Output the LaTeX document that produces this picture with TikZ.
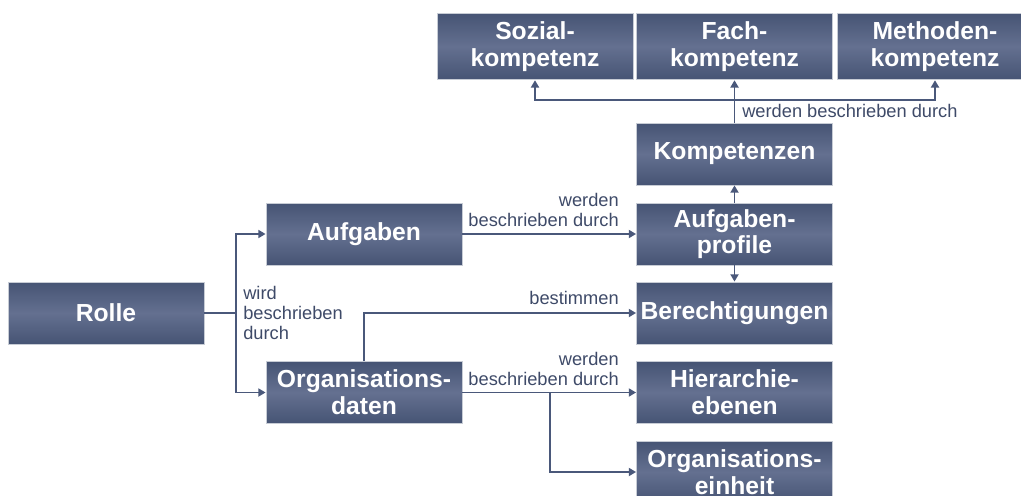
\documentclass[tikz,border=0pt]{standalone}
\usepackage{fontspec}
\setsansfont{Liberation Sans}
\usepackage{xcolor}
\usetikzlibrary{arrows.meta,positioning,calc}
\definecolor{boxdark}{RGB}{70,84,116}
\definecolor{boxlight}{RGB}{100,112,144}
\definecolor{linecol}{RGB}{74,88,122}
\definecolor{labelcol}{RGB}{62,74,104}

\begin{document}
\begin{tikzpicture}[x=0.75pt,y=-0.75pt,font=\sffamily,>={Triangle[length=5.5pt,width=6pt]},
  box/.style={rectangle,draw=white!70!boxdark,line width=0.6pt,top color=boxdark,bottom color=boxdark,
    middle color=boxlight,text=white,font=\sffamily\bfseries\fontsize{18.5}{20}\selectfont,
    align=center,minimum width=147pt,minimum height=46.5pt,inner sep=0pt},
  tallbox/.style={box,minimum height=50pt},
  conn/.style={draw=linecol,line width=1.4pt},
  lbl/.style={text=labelcol,font=\sffamily\fontsize{13.7}{15.2}\selectfont,inner sep=0pt}]
  \useasboundingbox (0,0) rectangle (1021,496);
  \clip (0,0) rectangle (1021,496);
  % left side
  \node[box] (rolle) at (106,313) {Rolle};
  \node[box] (aufgaben) at (364,234) {Aufgaben};
  \node[box] (orgdaten) at (364,392.5) {Organisations-\\daten};
  % right column
  \node[box] (kompetenzen) at (734.5,154) {Kompetenzen};
  \node[box] (aufgprofile) at (734.5,234) {Aufgaben-\\profile};
  \node[box] (berecht) at (734.5,313) {Berechtigungen};
  \node[box] (hierarchie) at (734.5,392.5) {Hierarchie-\\ebenen};
  \node[box] (orgeinheit) at (734.5,472) {Organisations-\\einheit};
  % top row
  \node[tallbox] (sozial) at (535,46.5) {Sozial-\\kompetenz};
  \node[tallbox] (fach) at (734.5,46.5) {Fach-\\kompetenz};
  \node[tallbox] (methoden) at (935,46.5) {Methoden-\\kompetenz};
  % junctions
  \coordinate (split) at (236,313);
  \coordinate (branch) at (550,392.5);
  \coordinate (topbus) at (734.5,100);
  % connectors
  \draw[conn] (rolle.east) -- (split);
  \draw[conn,->] (split) |- (aufgaben.west);
  \draw[conn,->] (split) |- (orgdaten.west);
  \draw[conn,->] (aufgaben.east) -- (aufgprofile.west);
  \draw[conn,->] (orgdaten.north) |- (berecht.west);
  \draw[conn,->] (orgdaten.east) -- (hierarchie.west);
  \draw[conn,->] (branch) |- (orgeinheit.west);
  \draw[conn,->] (aufgprofile.north) -- (kompetenzen.south);
  \draw[conn,->] (aufgprofile.south) -- (berecht.north);
  \draw[conn,->] (kompetenzen.north) -- (fach.south);
  \draw[conn,->] (topbus) -| (sozial.south);
  \draw[conn,->] (topbus) -| (methoden.south);
  % labels
  \node[lbl,align=left,anchor=west] (lblwird) at (243,313) {wird\\beschrieben\\durch};
  \node[lbl,align=right,anchor=south east] (lblaufg) at (619,227) {werden\\beschrieben durch};
  \node[lbl,anchor=south east] (lblbest) at (619,305) {bestimmen};
  \node[lbl,align=right,anchor=south east] (lblorg) at (619,386) {werden\\beschrieben durch};
  \node[lbl,anchor=south west] (lblkomp) at (742,118) {werden beschrieben durch};
\end{tikzpicture}
\end{document}
